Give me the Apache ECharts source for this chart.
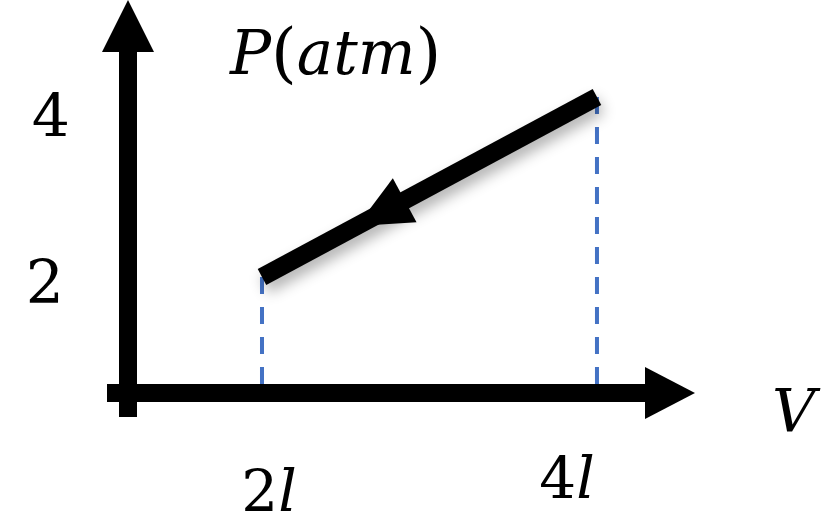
<!DOCTYPE html>
<html><head><meta charset="utf-8">
<script src="https://cdn.jsdelivr.net/npm/echarts@6/dist/echarts.min.js"></script>
<style>html,body{margin:0;padding:0;background:#fff}#c{width:823px;height:531px}</style>
</head><body><div id="c"></div>
<script>
// Process path (V in litres, P in atm), drawn from state (4l,4) to (2l,2)
const processV = [4, 2];
const processP = [4, 2];
// Direction arrow placed on the process line
const arrowV = [2.71];
const arrowP = [2.71];
// Dashed drop lines from the end states to the V axis
const dropV = [2, 4];
const dropTopP = [2, 4];
const axisBaseP = 0.71;
// Tick labels
const xTickValues = [2, 4];
const xTickLabels = ['2', '4'];
const yTickValues = [2, 4];
const yTickLabels = ['2', '4'];

const FONT = 'DejaVu Serif';
const chart = echarts.init(document.getElementById('c'), null, {renderer: 'canvas'});

const series = [];
dropV.forEach((v, i) => {
  series.push({
    type: 'line', z: 3, symbol: 'none', silent: true,
    data: [[v, dropTopP[i]], [v, axisBaseP]],
    lineStyle: {color: '#4472C4', width: 4, type: [17, 13]}
  });
});
series.push({
  type: 'line', z: 5, symbol: 'none', silent: true,
  data: processV.map((v, i) => [v, processP[i]]),
  lineStyle: {color: '#000', width: 18, cap: 'butt',
    shadowColor: 'rgba(0,0,0,0.3)', shadowBlur: 14, shadowOffsetX: 3, shadowOffsetY: 8}
});
series.push({
  type: 'scatter', z: 6, silent: true,
  data: arrowV.map((v, i) => [v, arrowP[i]]),
  symbol: 'triangle', symbolSize: [50, 54], symbolRotate: 118.3,
  itemStyle: {color: '#000', opacity: 1}
});

const option = {
  backgroundColor: '#fff',
  animation: false,
  title: {
    text: '{i|P}{n|(}{i|atm}{n|)}',
    left: 225, top: 20,
    textStyle: {
      fontWeight: 'normal',
      rich: {
        i: {fontFamily: FONT, fontStyle: 'italic', fontWeight: 'normal', fontSize: 61, color: '#000'},
        n: {fontFamily: FONT, fontWeight: 'normal', fontSize: 66, color: '#000'}
      }
    }
  },
  grid: {left: 107, right: 153, top: 26, bottom: 114, outerBoundsMode: 'none', containLabel: false},
  xAxis: {
    type: 'value', min: 1.0746, max: 4.436, offset: -24,
    splitLine: {show: false}, axisTick: {show: false},
    axisLine: {onZero: false, symbol: ['none', 'triangle'], symbolSize: [52, 50],
      lineStyle: {color: '#000', width: 18, cap: 'butt'}},
    name: '{v|V}', nameLocation: 'end', nameGap: 102,
    nameTextStyle: {
      rich: {v: {fontFamily: FONT, fontStyle: 'italic', fontSize: 60, color: '#000', padding: [46, 0, 0, 0]}}
    },
    axisLabel: {
      customValues: xTickValues, margin: 61,
      formatter: (v) => {
        const k = xTickValues.indexOf(v);
        return k === 0 ? '{a|' + xTickLabels[k] + '}{ai|l}' : '{b|' + xTickLabels[k] + '}{bi|l}';
      },
      rich: {
        a: {fontFamily: FONT, fontSize: 58, color: '#000', padding: [13, 0, 0, 14]},
        ai: {fontFamily: FONT, fontStyle: 'italic', fontSize: 58, color: '#000', padding: [13, 0, 0, 0]},
        b: {fontFamily: FONT, fontSize: 58, color: '#000', padding: [0, 0, 0, 0]},
        bi: {fontFamily: FONT, fontStyle: 'italic', fontSize: 58, color: '#000', padding: [0, 60, 0, 0]}
      }
    }
  },
  yAxis: {
    type: 'value', min: 0.444, max: 4.789, offset: -21,
    splitLine: {show: false}, axisTick: {show: false},
    axisLine: {onZero: false, symbol: ['none', 'triangle'], symbolSize: [52, 52],
      lineStyle: {color: '#000', width: 18, cap: 'butt'}},
    axisLabel: {
      customValues: yTickValues, margin: 58,
      formatter: (v) => {
        const k = yTickValues.indexOf(v);
        return k === 1 ? '{t4|' + yTickLabels[k] + '}' : '{t2|' + yTickLabels[k] + '}';
      },
      rich: {
        t4: {fontFamily: FONT, fontSize: 60, color: '#000', padding: [48, 0, 0, 0]},
        t2: {fontFamily: FONT, fontSize: 60, color: '#000', padding: [20, 6, 0, 0]}
      }
    }
  },
  series: series
};
chart.setOption(option);
</script>
</body></html>
